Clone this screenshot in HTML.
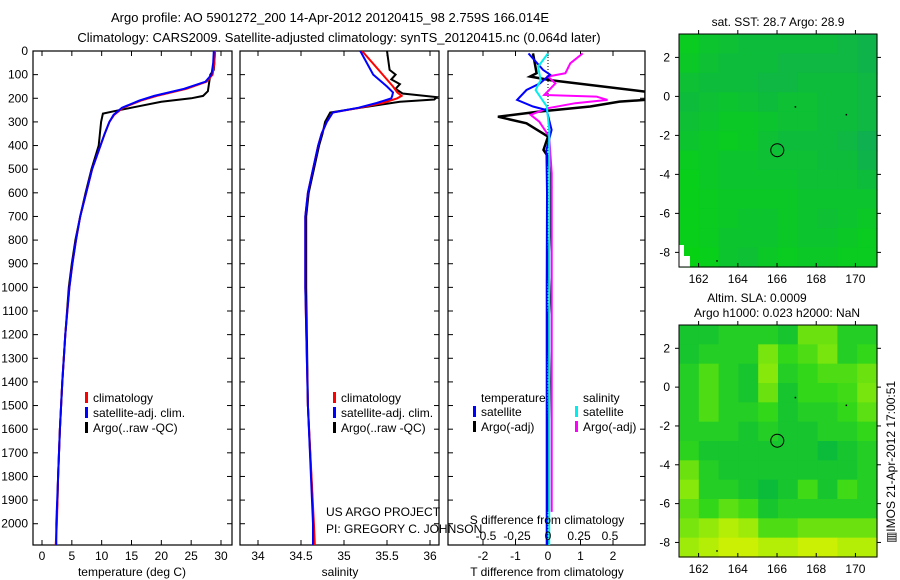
<!DOCTYPE html>
<html><head><meta charset="utf-8"><style>
body{margin:0;background:#fff;}
svg{display:block;font-family:"Liberation Sans",sans-serif;font-size:12px;}
</style></head><body>
<svg id="fig" width="900" height="580" viewBox="0 0 900 580">
<text x="330" y="22" text-anchor="middle" font-size="13">Argo profile: AO 5901272_200 14-Apr-2012 20120415_98 2.759S 166.014E</text>
<text x="339" y="42" text-anchor="middle" font-size="13">Climatology: CARS2009. Satellite-adjusted climatology: synTS_20120415.nc (0.064d later)</text>
<g id="plots"></g>
</svg>
<script>
// ---- data ----
const tempClimDepth=[0,50,100,130,160,190,210,240,270,300,350,400,500,600,700,800,900,1000,1200,1400,1600,1800,2000,2090];
const tempClim=[29.0,28.9,28.6,27.6,24.2,19.2,16.6,13.6,12.1,11.3,10.5,9.8,8.4,7.4,6.4,5.7,5.1,4.6,3.9,3.4,3.0,2.7,2.5,2.3];
const tempSat=[28.8,28.7,28.4,27.4,23.8,18.8,16.3,13.4,12.0,11.3,10.5,9.8,8.4,7.4,6.4,5.7,5.1,4.6,3.9,3.4,3.0,2.7,2.4,2.4];
const tempArgoDepth=[0,80,100,170,190,200,215,240,255,265,300,350,400,500,600,700,800,900,1000,1200,1400,1600,1800,1900,1950];
const tempArgo=[29.0,28.8,28.2,27.8,27.0,25.0,20.0,15.0,12.0,10.2,9.9,9.7,9.5,8.3,7.3,6.4,5.6,5.0,4.5,3.9,3.4,3.0,2.7,2.6,2.5];
const salDepth=[0,100,150,175,190,200,220,240,260,300,350,400,500,600,700,1000,1500,2000,2090];
const salClim=[35.21,35.45,35.57,35.62,35.67,35.62,35.45,35.19,34.87,34.80,34.74,34.70,34.64,34.58,34.55,34.55,34.58,34.65,34.66];
const salSat=[35.19,35.34,35.50,35.57,35.56,35.55,35.38,35.17,34.87,34.80,34.74,34.70,34.64,34.58,34.55,34.55,34.58,34.64,34.64];
const salArgoDepth=[0,80,100,120,140,160,180,195,205,215,240,260,300,350,400,500,600,700,1000,1500,1950];
const salArgo=[35.5,35.53,35.6,35.55,35.65,35.6,35.68,36.08,36.05,35.65,35.19,34.84,34.78,34.75,34.71,34.65,34.59,34.56,34.56,34.58,34.64];
const dTDepth=[10,80,100,137,165,207,235,250,334,419,600,1000,2090];
const dTSat=[-0.6,-0.15,0.06,-0.25,-0.66,-0.95,-0.46,-0.04,0.11,-0.05,-0.03,-0.04,-0.04];
const dTArgoDepth=[10,94,108,123,172,207,214,235,256,278,306,362,419,447,574,729,900,1053,1151,1400,1700,1950];
const dTArgo=[-0.46,-0.35,-0.55,0.06,3.0,3.0,2.2,1.3,-0.25,-1.54,-0.66,0.0,-0.14,0.0,0.1,0.08,0.0,0.06,0.0,0.05,0.0,0.0];
const dSDepth=[10,66,123,165,235,334,600,1000,2090];
const dSSat=[0.0,-0.08,-0.06,-0.1,-0.01,0.01,0.01,0.01,0.01];
const dSArgoDepth=[10,52,94,108,137,186,193,207,221,242,270,299,362,517,1000,1950];
const dSArgo=[0.28,0.18,0.14,0.0,0.06,-0.03,0.39,0.48,0.22,0.0,-0.14,-0.07,0.01,0.03,0.03,0.03];
const depthTicks=[0,100,200,300,400,500,600,700,800,900,1000,1100,1200,1300,1400,1500,1600,1700,1800,1900,2000];
const tempTicks=[0,5,10,15,20,25,30];
const salTicks=[34,34.5,35,35.5,36];
const dTTicks=[-2,-1,0,1,2];
const dSTicks=[-0.5,-0.25,0,0.25,0.5];
const lonTicks=[162,164,166,168,170];
const latTicks=[2,0,-2,-4,-6,-8];
const sstGrid=[
[0.7,0.5,0.4,0.3,0.3,0.3,0.3,0.3,0.2,0.1],
[0.6,0.4,0.3,0.3,0.3,0.2,0.2,0.2,0.2,0.1],
[0.4,0.3,0.3,0.3,0.2,0.2,0.3,0.3,0.3,0.2],
[0.3,0.4,0.5,0.4,0.3,0.4,0.4,0.3,0.3,0.2],
[0.4,0.5,0.6,0.6,0.5,0.4,0.4,0.3,0.3,0.2],
[0.5,0.6,0.7,0.6,0.4,0.3,0.3,0.3,0.2,0.0],
[0.7,0.6,0.5,0.5,0.4,0.4,0.4,0.3,0.3,0.1],
[0.8,0.6,0.5,0.5,0.5,0.5,0.4,0.4,0.4,0.3],
[0.8,0.7,0.6,0.6,0.6,0.6,0.5,0.5,0.5,0.5],
[0.8,0.7,0.6,0.5,0.5,0.6,0.5,0.4,0.5,0.6],
[0.8,0.7,0.5,0.5,0.5,0.6,0.5,0.5,0.6,0.7],
[0.9,0.8,0.5,0.4,0.6,0.7,0.6,0.6,0.7,0.7]];
const slaGrid=[
[0.10,0.10,0.20,0.20,0.20,0.10,0.50,0.50,0.20,0.20],
[0.10,0.20,0.20,0.20,0.55,0.30,0.40,0.55,0.20,0.30],
[0.20,0.40,0.20,0.10,0.60,0.20,0.30,0.40,0.40,0.50],
[0.20,0.40,0.20,0.10,0.50,0.10,0.30,0.30,0.35,0.55],
[0.20,0.40,0.20,0.20,0.30,0.10,0.20,0.20,0.30,0.45],
[0.20,0.20,0.20,0.10,0.20,0.10,0.10,0.20,0.20,0.30],
[0.25,0.10,0.10,0.10,0.10,0.10,0.10,0.00,0.10,0.20],
[0.50,0.20,0.10,0.10,0.10,0.10,0.10,0.10,0.10,0.20],
[0.60,0.20,0.20,0.10,0.00,0.10,0.35,0.10,0.35,0.20],
[0.45,0.30,0.45,0.35,0.10,0.20,0.20,0.20,0.20,0.20],
[0.55,0.65,0.80,0.70,0.40,0.40,0.50,0.50,0.50,0.50],
[0.70,0.80,0.90,0.90,0.80,0.80,0.90,0.90,0.80,0.80]];

// ---- drawing ----
const NS='http://www.w3.org/2000/svg';
const root=document.getElementById('plots');
function el(tag,attrs,parent,txt){const e=document.createElementNS(NS,tag);for(const k in attrs)e.setAttribute(k,attrs[k]);if(txt!==undefined)e.textContent=txt;(parent||root).appendChild(e);return e;}
const Y0=51,Y1=545,DMAX=2090;
const yD=d=>Y0+(Y1-Y0)*d/DMAX;
function lin(d0,d1,p0,p1){return v=>p0+(v-d0)*(p1-p0)/(d1-d0);}
const panels=[
 {x0:33,x1:232,name:'temperature-panel'},
 {x0:240,x1:439,name:'salinity-panel'},
 {x0:448,x1:645,name:'difference-panel'}];
const xT=lin(0,30,42,221), xS=lin(34,36,258,430), xDT=lin(0,2,548,613), xDS=lin(0,0.5,548,610);
panels.forEach((p,i)=>{
 const g=el('g',{});
 
 
 const cp=el('clipPath',{id:'cp'+i},g);el('rect',{x:p.x0,y:Y0,width:p.x1-p.x0,height:Y1-Y0},cp);
 const r=el('rect',{x:p.x0,y:Y0,width:p.x1-p.x0,height:Y1-Y0,fill:'none',stroke:'#000','stroke-width':1.2},g);
 
 
 depthTicks.forEach(d=>{el('line',{x1:p.x0,x2:p.x0+5,y1:yD(d),y2:yD(d),stroke:'#000'},g);el('line',{x1:p.x1,x2:p.x1-5,y1:yD(d),y2:yD(d),stroke:'#000'},g);});
 p.g=g;
});
depthTicks.forEach(d=>{const t=el('text',{x:28,y:yD(d)+4,'text-anchor':'end'},root,String(d));
 
 });
function xticks(p,ticks,f,y){ticks.forEach(v=>{const x=f(v);el('line',{x1:x,x2:x,y1:Y1,y2:Y1-5,stroke:'#000'},p.g);el('line',{x1:x,x2:x,y1:Y0,y2:Y0+5,stroke:'#000'},p.g);
 const t=el('text',{x:x,y:y,'text-anchor':'middle'},root,String(v));
 
 });}
xticks(panels[0],tempTicks,xT,560);
xticks(panels[1],salTicks,xS,560);
xticks(panels[2],dTTicks,xDT,560);
dSTicks.forEach(v=>{const t=el('text',{x:xDS(v),y:540,'text-anchor':'middle'},root,String(v));
 
 });
function label(x,y,s,name,anchor){const t=el('text',{x:x,y:y,'text-anchor':anchor||'middle'},root,s);return t;}
label(132,576,'temperature (deg C)','x-axis-title-temperature');
label(340,576,'salinity','x-axis-title-salinity');
label(547,576,'T difference from climatology','x-axis-title-t-diff');
label(547,524,'S difference from climatology','x-axis-title-s-diff');
label(326,516,'US ARGO PROJECT','project-credit','start');
label(326,533,'PI: GREGORY C. JOHNSON','pi-credit','start');
el('line',{x1:548,x2:548,y1:Y0,y2:Y1,stroke:'#000','stroke-dasharray':'1,2'},panels[2].g);
function series(p,depths,vals,f,color,name,w){
 const pts=depths.map((d,i)=>f(vals[i]).toFixed(1)+','+yD(d).toFixed(1)).join(' ');
 const l=el('polyline',{points:pts,fill:'none',stroke:color,'stroke-width':w||2,'clip-path':'url(#cp'+panels.indexOf(p)+')'},p.g);
 
 }
series(panels[0],tempArgoDepth,tempArgo,xT,'#000','temp-argo-line');
series(panels[0],tempClimDepth,tempClim,xT,'#f00','temp-climatology-line');
series(panels[0],tempClimDepth,tempSat,xT,'#00f','temp-satellite-clim-line');
series(panels[1],salArgoDepth,salArgo,xS,'#000','salinity-argo-line');
series(panels[1],salDepth,salClim,xS,'#f00','salinity-climatology-line');
series(panels[1],salDepth,salSat,xS,'#00f','salinity-satellite-clim-line');
series(panels[2],dTArgoDepth,dTArgo,xDT,'#000','t-diff-argo-line',2.5);
series(panels[2],dSArgoDepth,dSArgo,xDS,'#f0f','s-diff-argo-line');
series(panels[2],dTDepth,dTSat,xDT,'#00f','t-diff-satellite-line');
series(panels[2],dSDepth,dSSat,xDS,'#0ee','s-diff-satellite-line');
function legend(x,y,color,txt,name){const g=el('g',{});
 if(color)el('rect',{x:x,y:y-10,width:3,height:11,fill:color},g);el('text',{x:x+8,y:y},g,txt);}
[[0,85],[1,333]].forEach(([i,x])=>{
 legend(x,402,'#f00','climatology','legend-climatology');
 legend(x,417,'#00f','satellite-adj. clim.','legend-satellite-clim');
 legend(x,432,'#000','Argo(..raw -QC)','legend-argo');});
legend(473,402,null,'temperature','legend-temperature-header');
legend(473,416,'#00f','satellite','legend-t-satellite');
legend(473,431,'#000','Argo(-adj)','legend-t-argo');
legend(575,402,null,'salinity','legend-salinity-header');
legend(575,416,'#0ee','satellite','legend-s-satellite');
legend(575,431,'#f0f','Argo(-adj)','legend-s-argo');
// maps
function mix(stops,v){for(let i=1;i<stops.length;i++){if(v<=stops[i][0]){const a=stops[i-1],b=stops[i],t=(v-a[0])/(b[0]-a[0]);return 'rgb('+a[1].map((c,k)=>Math.round(c+(b[1][k]-c)*t)).join(',')+')';}}const l=stops[stops.length-1][1];return 'rgb('+l.join(',')+')';}
const slaStops=[[0,[10,188,58]],[0.3,[50,215,25]],[0.6,[135,232,12]],[1,[225,242,0]]];
const sstStops=[[0,[15,176,80]],[0.5,[12,196,45]],[1,[5,214,12]]];
function map(y0,y1,grid,stops,name){
 const x0=679,x1=877,LON0=161,LON1=171.1,LAT0=3.2,LAT1=-8.75;
 const fx=lin(LON0,LON1,x0,x1),fy=lin(LAT0,LAT1,y0,y1);
 const g=el('g',{});
 const rows=grid.length,cols=grid[0].length,cw=(x1-x0)/cols,rh=(y1-y0)/rows;
 grid.forEach((row,r)=>row.forEach((v,c)=>{const cell=el('rect',{x:x0+c*cw,y:y0+r*rh,width:cw+0.6,height:rh+0.6,fill:mix(stops,v)},g);
  
  }));
 lonTicks.forEach(v=>{const x=fx(v);el('line',{x1:x,x2:x,y1:y1,y2:y1-4,stroke:'#000'},g);el('line',{x1:x,x2:x,y1:y0,y2:y0-4,stroke:'#000'},g);
  const t=el('text',{x:x,y:y1+16,'text-anchor':'middle'},g,String(v));});
 latTicks.forEach(v=>{const y=fy(v);el('line',{x1:x0,x2:x0-4,y1:y,y2:y,stroke:'#000'},g);el('line',{x1:x1,x2:x1+4,y1:y,y2:y,stroke:'#000'},g);
  const t=el('text',{x:670,y:y+4,'text-anchor':'end'},g,String(v));});
 const c=el('circle',{cx:fx(166.014),cy:fy(-2.759),r:6.5,fill:'none',stroke:'#000'},g);
 
 [[166.9,-0.5],[169.5,-0.9],[162.9,-8.4]].forEach(([lo,la])=>el('rect',{x:fx(lo),y:fy(la),width:1.5,height:1.5,fill:'#000'},g));
 return {fx,fy,g,x0,x1,y0,y1};
}
const m1=map(34,267,sstGrid,sstStops,'sst-map');
el('rect',{x:679,y:245,width:5,height:22,fill:'#fff'},m1.g);el('rect',{x:684,y:256,width:6,height:11,fill:'#fff'},m1.g);
el('rect',{x:679,y:34,width:198,height:233,fill:'none',stroke:'#000'},m1.g);
const m2=map(325,557,slaGrid,slaStops,'sla-map');
el('rect',{x:679,y:325,width:198,height:232,fill:'none',stroke:'#000'},m2.g);
label(778,26,'sat. SST: 28.7 Argo: 28.9','sst-map-title');
label(757,302,'Altim. SLA: 0.0009','sla-map-title');
label(777,317,'Argo h1000: 0.023 h2000: NaN','sla-map-subtitle');
const side=label(0,0,'\u25A5IMOS 21-Apr-2012 17:00:51','timestamp-label');
side.setAttribute('transform','translate(895,462) rotate(-90)');
</script>
</body></html>
